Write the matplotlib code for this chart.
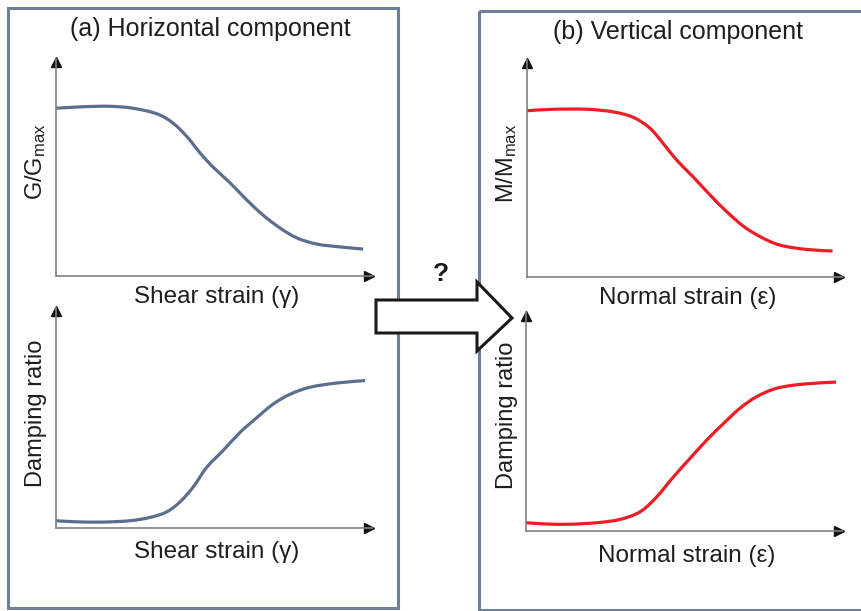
import numpy as np
import matplotlib.pyplot as plt
from matplotlib.patches import Rectangle, Polygon, PathPatch
from matplotlib.path import Path

plt.rcParams['font.family'] = ['Liberation Sans', 'DejaVu Sans']

# curves (x and y as fraction of the axis length)
gg_x = [0, 0.086, 0.171, 0.244, 0.320, 0.370, 0.415, 0.456, 0.497, 0.551,
        0.604, 0.655, 0.709, 0.763, 0.826, 0.899, 0.972]
gg_y = [0.773, 0.780, 0.782, 0.773, 0.747, 0.705, 0.641, 0.567, 0.502, 0.429,
        0.350, 0.281, 0.221, 0.175, 0.147, 0.134, 0.124]

dg_x = [0, 0.065, 0.149, 0.234, 0.297, 0.350, 0.392, 0.434, 0.477, 0.528,
        0.582, 0.635, 0.687, 0.741, 0.804, 0.888, 0.978]
dg_y = [0.033, 0.028, 0.027, 0.033, 0.048, 0.073, 0.118, 0.186, 0.276, 0.351,
        0.434, 0.501, 0.563, 0.608, 0.640, 0.659, 0.670]

mm_x = [0, 0.083, 0.190, 0.273, 0.337, 0.390, 0.432, 0.475, 0.527, 0.581,
        0.634, 0.686, 0.740, 0.803, 0.888, 0.970]
mm_y = [0.766, 0.773, 0.773, 0.761, 0.736, 0.686, 0.616, 0.539, 0.462, 0.378,
        0.301, 0.235, 0.186, 0.147, 0.127, 0.120]

dn_x = [0, 0.065, 0.139, 0.224, 0.297, 0.361, 0.414, 0.467, 0.519, 0.572,
        0.625, 0.677, 0.730, 0.794, 0.878, 0.981]
dn_y = [0.038, 0.032, 0.031, 0.038, 0.053, 0.088, 0.157, 0.249, 0.333, 0.417,
        0.493, 0.563, 0.616, 0.655, 0.674, 0.683]

W, H = 862, 611
fig = plt.figure(figsize=(W/100, H/100), dpi=100)

# background layer in pixel coords for boxes, titles and the big arrow
bg = fig.add_axes([0, 0, 1, 1])
bg.set_xlim(0, W)
bg.set_ylim(H, 0)
bg.axis('off')

box_col = '#6e7f9b'
bg.add_patch(Rectangle((8.5, 7.5), 390, 600, fill=False, ec=box_col, lw=2.2))
bg.add_patch(Rectangle((479, 10.5), 400, 599, fill=False, ec=box_col, lw=2.2))

txt = '#1e1e1e'
bg.text(210, 29, '(a) Horizontal component', ha='center', va='center',
        fontsize=18, color=txt)
bg.text(678, 32, '(b) Vertical component', ha='center', va='center',
        fontsize=18, color=txt)

arrow = [(376, 300), (477, 300), (477, 282), (512, 318), (477, 351),
         (477, 333), (376, 333)]
bg.add_patch(Polygon(arrow, closed=True, fc='white', ec='#1a1a1a', lw=2.2,
                     zorder=5, joinstyle='miter'))
bg.text(441, 274, '?', ha='center', va='center', fontsize=19,
        fontweight='bold', color='#1a1a1a')


def smooth_path(xs, ys):
    # catmull-rom through the read points, drawn as cubic bezier segments
    p = np.column_stack([xs, ys])
    verts = [p[0]]
    codes = [Path.MOVETO]
    for i in range(len(p) - 1):
        p0 = p[max(i - 1, 0)]
        p1, p2 = p[i], p[i + 1]
        p3 = p[min(i + 2, len(p) - 1)]
        verts += [p1 + (p2 - p0) / 6, p2 - (p3 - p1) / 6, p2]
        codes += [Path.CURVE4] * 3
    return Path(verts, codes)


def panel(x0, ytop, xtip, ybot, xs, ys, color, ylab, xlab, ylab_x, ylab_y,
          xlab_y):
    ax = fig.add_axes([x0/W, 1 - ybot/H, (xtip - x0)/W, (ybot - ytop)/H])
    ax.set_xlim(0, 1)
    ax.set_ylim(0, 1)
    ax.patch.set_alpha(0)
    for s in ['top', 'right']:
        ax.spines[s].set_visible(False)
    for s in ['left', 'bottom']:
        ax.spines[s].set_color('#808080')
        ax.spines[s].set_linewidth(1.2)
    ax.set_xticks([])
    ax.set_yticks([])
    ax.add_patch(PathPatch(smooth_path(xs, ys), fill=False, ec=color,
                           lw=2.3, capstyle='butt'))
    ax.plot(0.99, 0, marker='>', ms=7, color='#111111', clip_on=False)
    ax.plot(0, 0.985, marker='^', ms=7, color='#111111', clip_on=False)
    bg.text(ylab_x, ylab_y, ylab, rotation=90, ha='center',
            va='center', fontsize=17, color=txt)
    bg.text((x0 + xtip)/2 + 3, xlab_y, xlab, ha='center', va='center',
            fontsize=17.5, color=txt)
    return ax


slate = '#5b6e8c'
red = '#ee1c25'
panel(56, 59, 372, 276, gg_x, gg_y, slate, r'G/G$\mathregular{_{max}}$',
      'Shear strain (γ)', 36, 162, 297)
panel(56, 308, 372, 528, dg_x, dg_y, slate, 'Damping ratio',
      'Shear strain (γ)', 36, 413, 552)
panel(527, 60, 842, 277, mm_x, mm_y, red, r'M/M$\mathregular{_{max}}$',
      'Normal strain (ε)', 507, 163, 298)
panel(526, 313, 842, 531, dn_x, dn_y, red, 'Damping ratio',
      'Normal strain (ε)', 507, 415, 556)

fig.savefig('out.png', dpi=100)
